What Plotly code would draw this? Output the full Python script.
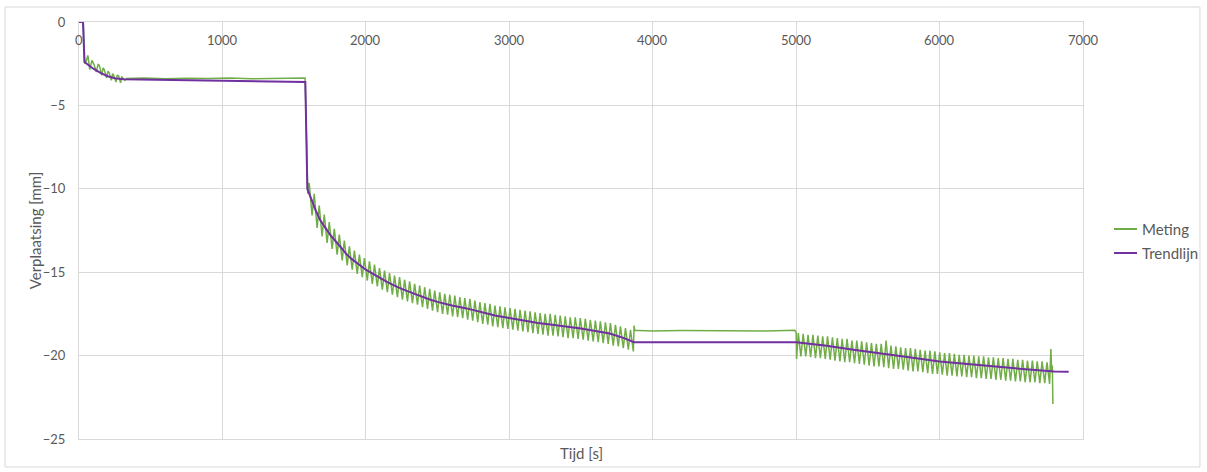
import plotly.graph_objects as go

# ---------------- data ----------------
# Trendlijn: time [s], displacement [mm]
trend_t = [0, 28, 38, 60, 100, 150, 200, 250, 310, 1000, 1578, 1592,
           1620, 1650, 1681, 1700, 1750, 1800, 1866, 1900, 1950, 2000,
           2050, 2099, 2150, 2200, 2250, 2331, 2400, 2450, 2500, 2600,
           2703, 2800, 2900, 3000, 3100, 3200, 3300, 3400, 3500, 3600,
           3700, 3800, 3870, 5000, 5200, 5400, 5600, 5800, 6000, 6200,
           6400, 6600, 6800, 6900]
trend_v = [0, 0, -2.4, -2.55, -2.8, -3.05, -3.25, -3.37, -3.43, -3.52, -3.6, -10.0,
           -10.67, -11.3, -11.87, -12.1, -12.75, -13.25, -13.93, -14.2, -14.55, -14.85,
           -15.1, -15.37, -15.6, -15.8, -16.0, -16.27, -16.5, -16.65, -16.78, -17.0,
           -17.17, -17.4, -17.6, -17.75, -17.9, -18.05, -18.15, -18.25, -18.38, -18.52,
           -18.68, -18.95, -19.2, -19.2, -19.4, -19.65, -19.9, -20.12, -20.35, -20.52,
           -20.67, -20.82, -20.95, -20.97]

# Meting, segment by segment: (time [s], displacement [mm])
meting_seg1 = [(0, 0), (30, 0), (34, -1.2), (40, -2.5), (50, -2.35), (62, -2.0),
               (75, -2.85), (90, -2.3), (105, -2.55), (120, -3.0), (133, -2.55),
               (142, -2.6), (158, -3.2), (168, -2.75), (176, -2.85), (192, -3.35),
               (202, -2.95), (210, -3.05), (226, -3.5), (234, -3.1), (240, -3.15),
               (258, -3.6), (266, -3.2), (275, -3.2), (290, -3.65), (298, -3.3),
               (305, -3.35), (320, -3.5), (330, -3.38), (450, -3.36), (600, -3.4),
               (750, -3.37), (900, -3.39), (1050, -3.36), (1200, -3.4), (1350, -3.37),
               (1500, -3.38), (1576, -3.36), (1580, -4.6), (1585, -7.0), (1590, -8.9),
               (1595, -10.3)]

meting_seg2 = [(1605, -9.65), (1625, -11.6), (1640, -10.3), (1660, -12.35),
               (1675, -11.0), (1695, -12.85), (1710, -11.55), (1730, -13.25),
               (1745, -12.0), (1765, -13.6), (1780, -12.4), (1800, -13.95),
               (1815, -12.75), (1835, -14.3), (1850, -13.1), (1870, -14.6),
               (1885, -13.45), (1905, -14.85), (1920, -13.7), (1940, -15.1),
               (1955, -13.95), (1975, -15.3), (1990, -14.15), (2010, -15.5),
               (2025, -14.35), (2045, -15.7), (2060, -14.55), (2080, -15.85),
               (2095, -14.75), (2115, -16.05), (2130, -14.9), (2150, -16.2),
               (2165, -15.05), (2185, -16.35), (2200, -15.2), (2220, -16.5),
               (2235, -15.3), (2255, -16.65), (2270, -15.45), (2290, -16.75),
               (2305, -15.55), (2325, -16.85), (2340, -15.7), (2360, -16.95),
               (2375, -15.8), (2395, -17.1), (2410, -15.9), (2430, -17.2),
               (2445, -16.0), (2465, -17.3), (2480, -16.1), (2500, -17.4),
               (2515, -16.2), (2535, -17.5), (2550, -16.3), (2570, -17.55),
               (2585, -16.35), (2605, -17.65), (2620, -16.4), (2640, -17.7),
               (2655, -16.5), (2675, -17.75), (2690, -16.55), (2710, -17.85),
               (2725, -16.6), (2745, -17.9), (2760, -16.7), (2780, -18.0),
               (2795, -16.8), (2815, -18.1), (2830, -16.85), (2850, -18.15),
               (2865, -16.9), (2885, -18.25), (2900, -17.0), (2920, -18.3),
               (2935, -17.05), (2955, -18.35), (2970, -17.1), (2990, -18.4),
               (3005, -17.15), (3025, -18.45), (3040, -17.2), (3060, -18.5),
               (3075, -17.25), (3095, -18.55), (3110, -17.3), (3130, -18.6),
               (3145, -17.35), (3165, -18.65), (3180, -17.4), (3200, -18.7),
               (3215, -17.45), (3235, -18.75), (3250, -17.5), (3270, -18.8),
               (3285, -17.5), (3305, -18.8), (3320, -17.55), (3340, -18.85),
               (3355, -17.6), (3375, -18.9), (3390, -17.65), (3410, -18.95),
               (3425, -17.7), (3445, -18.95), (3460, -17.7), (3480, -19.0),
               (3495, -17.75), (3515, -19.05), (3530, -17.8), (3550, -19.1),
               (3565, -17.85), (3585, -19.15), (3600, -17.9), (3620, -19.2),
               (3635, -17.95), (3655, -19.25), (3670, -18.0), (3690, -19.3),
               (3705, -18.05), (3725, -19.4), (3740, -18.15), (3760, -19.45),
               (3775, -18.25), (3795, -19.55), (3810, -18.35), (3830, -19.65),
               (3845, -18.45), (3865, -19.75), (3870, -18.2), (3875, -18.5)]

meting_seg3 = [(3900, -18.5), (4000, -18.52), (4200, -18.5), (4400, -18.52),
               (4600, -18.5), (4800, -18.52), (4990, -18.48), (5000, -18.6),
               (5003, -20.2), (5008, -19.2)]

meting_seg4 = [(5015, -18.65), (5033, -20.05), (5049, -18.7), (5067, -20.05),
               (5083, -18.75), (5101, -20.1), (5117, -18.75), (5135, -20.15),
               (5151, -18.8), (5169, -20.15), (5185, -18.85), (5203, -20.2),
               (5219, -18.85), (5237, -20.25), (5253, -18.9), (5271, -20.3),
               (5287, -18.95), (5305, -20.35), (5321, -19.0), (5339, -20.4),
               (5355, -19.0), (5373, -20.4), (5389, -19.1), (5407, -20.45),
               (5423, -19.1), (5441, -20.5), (5457, -19.15), (5475, -20.55),
               (5491, -19.2), (5509, -20.6), (5525, -19.25), (5543, -20.65),
               (5559, -19.3), (5577, -20.65), (5593, -19.3), (5611, -20.7),
               (5627, -19.1), (5645, -20.75), (5661, -19.4), (5679, -20.8),
               (5695, -19.45), (5713, -20.8), (5729, -19.5), (5747, -20.85),
               (5763, -19.55), (5781, -20.9), (5797, -19.55), (5815, -20.95),
               (5831, -19.6), (5849, -20.95), (5865, -19.65), (5883, -21.0),
               (5899, -19.7), (5917, -21.05), (5933, -19.7), (5951, -21.1),
               (5967, -19.75), (5985, -21.1), (6001, -19.8), (6019, -21.15),
               (6035, -19.85), (6053, -21.2), (6069, -19.85), (6087, -21.2),
               (6103, -19.9), (6121, -21.25), (6137, -19.95), (6155, -21.25),
               (6171, -19.95), (6189, -21.3), (6205, -20.0), (6223, -21.3),
               (6239, -20.0), (6257, -21.35), (6273, -20.05), (6291, -21.35),
               (6307, -20.05), (6325, -21.4), (6341, -20.1), (6359, -21.4),
               (6375, -20.1), (6393, -21.45), (6409, -20.15), (6427, -21.45),
               (6443, -20.15), (6461, -21.5), (6477, -20.2), (6495, -21.5),
               (6511, -20.2), (6529, -21.55), (6545, -20.25), (6563, -21.55),
               (6579, -20.25), (6597, -21.6), (6613, -20.3), (6631, -21.6),
               (6647, -20.3), (6665, -21.6), (6681, -20.35), (6699, -21.65),
               (6715, -20.35), (6733, -21.65), (6749, -20.4), (6767, -21.7),
               (6776, -19.6), (6782, -21.0), (6786, -20.6), (6790, -22.9)]

x_ticks = [0, 1000, 2000, 3000, 4000, 5000, 6000, 7000]
y_ticks = [0, -5, -10, -15, -20, -25]
series_names = ["Meting", "Trendlijn"]
series_colors = ["#70AD47", "#7030A0"]

# ---------------- figure ----------------
meting = meting_seg1 + meting_seg2 + meting_seg3 + meting_seg4
meting_t = [p[0] for p in meting]
meting_v = [p[1] for p in meting]

FONT = "Lato"
TXT = "#595959"
GRID = "#d9d9d9"

fig = go.Figure()
fig.add_trace(go.Scatter(x=meting_t, y=meting_v, mode="lines", name=series_names[0],
                         line=dict(color=series_colors[0], width=1.5)))
fig.add_trace(go.Scatter(x=trend_t, y=trend_v, mode="lines", name=series_names[1],
                         line=dict(color=series_colors[1], width=2)))

# x tick labels sit just below the y=0 axis line, inside the plot area
x_tick_annotations = [
    dict(text=str(v), xref="x", yref="paper", x=v, y=0.957,
         xanchor="center", yanchor="middle", showarrow=False,
         font=dict(size=13, color=TXT, family=FONT))
    for v in x_ticks
]

# legend drawn in the right margin (keeps the plot area fixed)
legend_y = [0.5036, 0.446]
legend_shapes = [
    dict(type="line", xref="paper", yref="paper", x0=1.0309, x1=1.0538,
         y0=yy, y1=yy, line=dict(color=c, width=2))
    for yy, c in zip(legend_y, series_colors)
]
legend_texts = [
    dict(text=n, xref="paper", yref="paper", x=1.0568, y=yy,
         xanchor="left", yanchor="middle", showarrow=False,
         font=dict(size=15, color=TXT, family=FONT))
    for yy, n in zip(legend_y, series_names)
]

fig.update_layout(
    width=1207, height=472,
    margin=dict(l=79, r=124, t=22, b=33),
    paper_bgcolor="white", plot_bgcolor="white",
    font=dict(family=FONT, color=TXT, size=12),
    showlegend=False,
    xaxis=dict(range=[0, 7000], tickvals=x_ticks, side="top",
               showticklabels=False, ticks="",
               showgrid=True, gridcolor=GRID, gridwidth=1,
               zeroline=False, showline=True, linecolor=GRID, mirror=True),
    yaxis=dict(range=[-25, 0], tickvals=y_ticks, ticks="outside", ticklen=10,
               tickcolor="rgba(0,0,0,0)",
               showgrid=True, gridcolor=GRID, gridwidth=1,
               zeroline=False, showline=True, linecolor=GRID, mirror=True,
               tickfont=dict(size=13, color=TXT, family=FONT)),
    annotations=x_tick_annotations + legend_texts + [
        dict(text="Tijd [s]", xref="paper", yref="paper", x=0.5, y=-0.034,
             xanchor="center", yanchor="middle", showarrow=False,
             font=dict(size=15, color=TXT, family=FONT)),
        dict(text="Verplaatsing [mm]", xref="paper", yref="paper", x=-0.044, y=0.5,
             xanchor="center", yanchor="middle", textangle=-90, showarrow=False,
             font=dict(size=15, color=TXT, family=FONT)),
    ],
    shapes=legend_shapes + [dict(type="rect", xref="paper", yref="paper",
                 x0=-0.0737, x1=1.1165, y0=-0.0671, y1=1.036,
                 line=dict(color=GRID, width=1), fillcolor="rgba(0,0,0,0)",
                 layer="below")],
)

fig.write_html("out.html")
